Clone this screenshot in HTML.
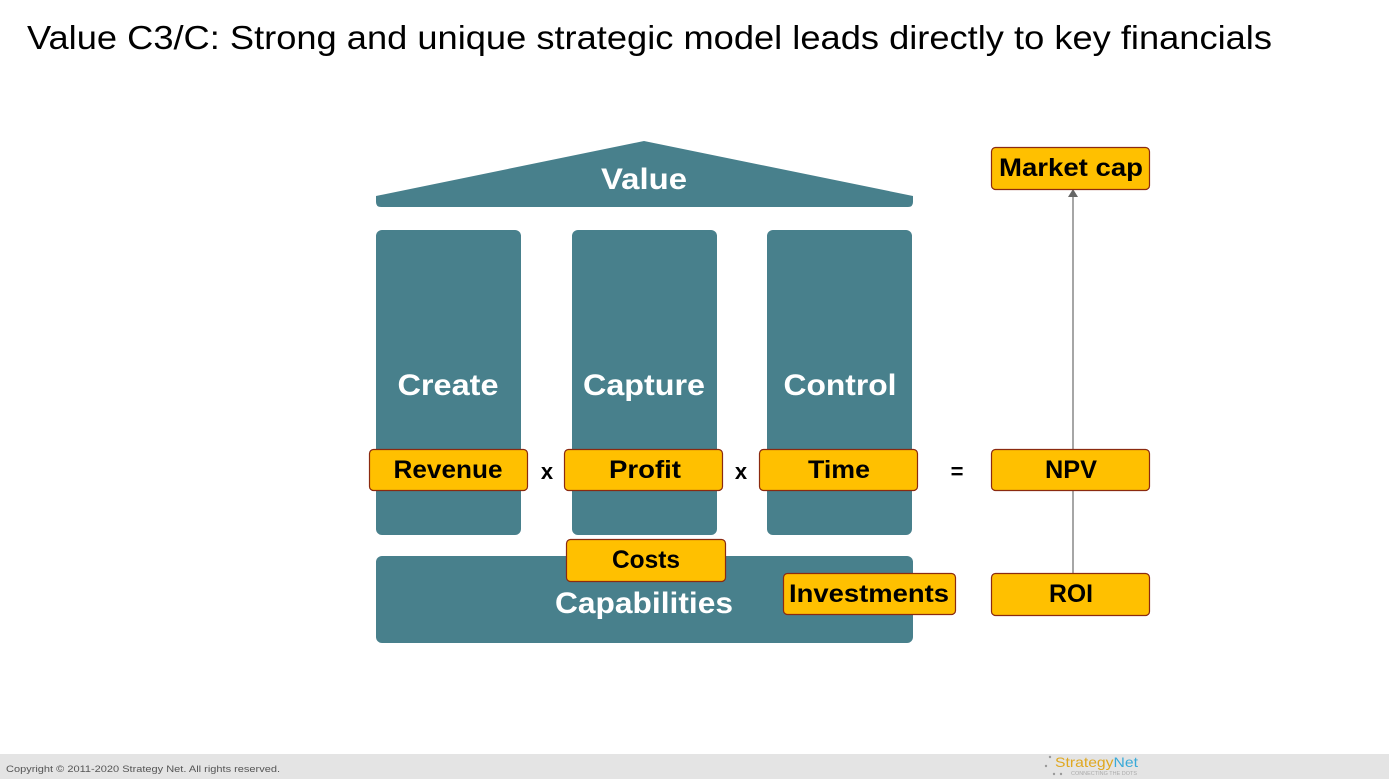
<!DOCTYPE html>
<html><head><meta charset="utf-8"><style>
html,body{margin:0;padding:0;background:#fff;}
svg{display:block;font-family:"Liberation Sans",sans-serif;}
</style></head><body>
<svg width="1389" height="779" viewBox="0 0 1389 779" xmlns="http://www.w3.org/2000/svg">
<text x="27" y="49" font-size="33" fill="#000" textLength="1245" lengthAdjust="spacingAndGlyphs">Value C3/C: Strong and unique strategic model leads directly to key financials</text>
<g fill="#48808C">
<path d="M376 196 L644 141 L913 196 L913 202 Q913 207 908 207 L381 207 Q376 207 376 202 Z"/>
<rect x="376" y="230" width="145" height="305" rx="6"/>
<rect x="572" y="230" width="145" height="305" rx="6"/>
<rect x="767" y="230" width="145" height="305" rx="6"/>
<rect x="376" y="556" width="537" height="87" rx="6"/>
</g>
<g fill="#fff" font-weight="bold" font-size="30" text-anchor="middle">
<text x="644" y="189" textLength="86" lengthAdjust="spacingAndGlyphs">Value</text>
<text x="448" y="395" textLength="101" lengthAdjust="spacingAndGlyphs">Create</text>
<text x="644" y="395" textLength="122" lengthAdjust="spacingAndGlyphs">Capture</text>
<text x="840" y="395" textLength="113" lengthAdjust="spacingAndGlyphs">Control</text>
<text x="644" y="613" textLength="178" lengthAdjust="spacingAndGlyphs">Capabilities</text>
</g>
<line x1="1073" y1="196" x2="1073" y2="573" stroke="#777" stroke-width="1.3"/>
<path d="M1068 197 L1073 189 L1078 197 Z" fill="#666"/>
<g fill="#FFC000" stroke="#8B2A10" stroke-width="1.2">
<rect x="369.5" y="449.5" width="158" height="41" rx="4"/>
<rect x="564.5" y="449.5" width="158" height="41" rx="4"/>
<rect x="759.5" y="449.5" width="158" height="41" rx="4"/>
<rect x="991.5" y="449.5" width="158" height="41" rx="4"/>
<rect x="566.5" y="539.5" width="159" height="42" rx="4"/>
<rect x="783.5" y="573.5" width="172" height="41" rx="4"/>
<rect x="991.5" y="573.5" width="158" height="42" rx="4"/>
<rect x="991.5" y="147.5" width="158" height="42" rx="4"/>
</g>
<g fill="#000" font-weight="bold" font-size="25" text-anchor="middle">
<text x="448" y="478" textLength="109" lengthAdjust="spacingAndGlyphs">Revenue</text>
<text x="645" y="478" textLength="72" lengthAdjust="spacingAndGlyphs">Profit</text>
<text x="839" y="478" textLength="62" lengthAdjust="spacingAndGlyphs">Time</text>
<text x="1071" y="478" textLength="52" lengthAdjust="spacingAndGlyphs">NPV</text>
<text x="646" y="568" textLength="68" lengthAdjust="spacingAndGlyphs">Costs</text>
<text x="869" y="602" textLength="160" lengthAdjust="spacingAndGlyphs">Investments</text>
<text x="1071" y="602" textLength="44" lengthAdjust="spacingAndGlyphs">ROI</text>
<text x="1071" y="176" textLength="144" lengthAdjust="spacingAndGlyphs">Market cap</text>
<text x="547" y="479" font-size="22">x</text>
<text x="741" y="479" font-size="22">x</text>
<text x="957" y="479" font-size="22">=</text>
</g>
<rect x="0" y="754" width="1389" height="25" fill="#e4e4e4"/>
<text x="6" y="772" font-size="9" fill="#555" textLength="274" lengthAdjust="spacingAndGlyphs">Copyright © 2011-2020 Strategy Net.   All rights reserved.</text>
<g fill="#999"><circle cx="1050" cy="757" r="1.2"/><circle cx="1046" cy="766" r="1.2"/><circle cx="1054" cy="774" r="1.2"/><circle cx="1061" cy="774" r="1.2"/></g>
<text x="1055" y="767" font-size="14" fill="#E0A820" textLength="83" lengthAdjust="spacingAndGlyphs">Strategy<tspan fill="#3AAAD8">Net</tspan></text>
<text x="1071" y="775" font-size="5" fill="#aaa" textLength="66" lengthAdjust="spacingAndGlyphs">CONNECTING THE DOTS</text>
</svg>
</body></html>
